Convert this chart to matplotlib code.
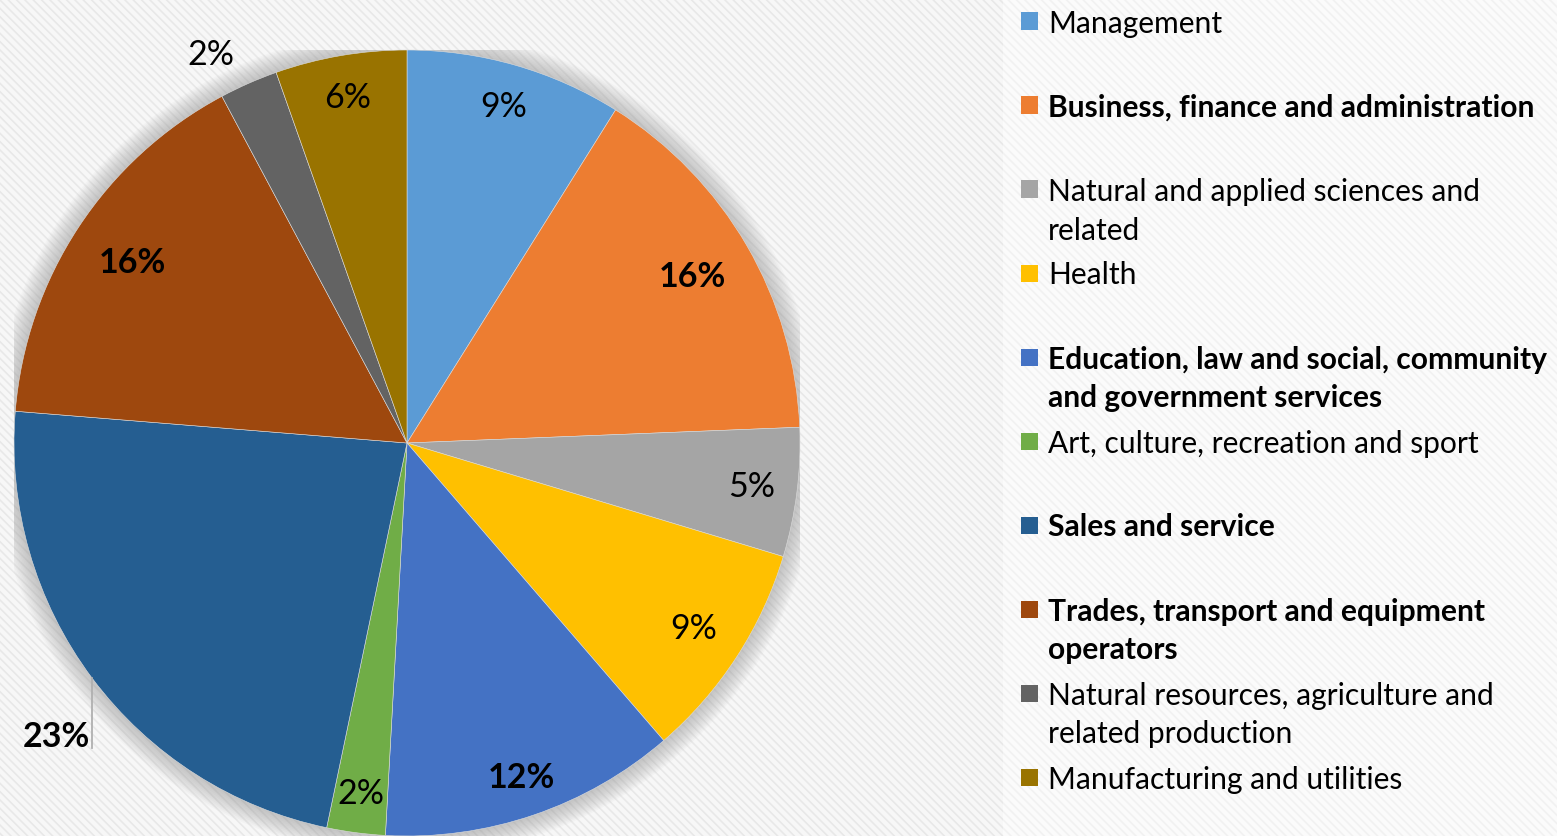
import matplotlib
matplotlib.use('Agg')
import matplotlib.pyplot as plt
from matplotlib.patches import Rectangle, Circle
import numpy as np

plt.rcParams['font.family'] = ['Lato', 'DejaVu Sans']
plt.rcParams['hatch.linewidth'] = 1.2

# data (wedge sizes in % of the circle, label texts as printed)
categories = ['Management', 'Business, finance and administration',
              'Natural and applied sciences and related', 'Health',
              'Education, law and social, community and government services',
              'Art, culture, recreation and sport', 'Sales and service',
              'Trades, transport and equipment operators',
              'Natural resources, agriculture and related production',
              'Manufacturing and utilities']
legend_labels = ['Management', 'Business, finance and administration',
                 'Natural and applied sciences and\nrelated', 'Health',
                 'Education, law and social, community\nand government services',
                 'Art, culture, recreation and sport', 'Sales and service',
                 'Trades, transport and equipment\noperators',
                 'Natural resources, agriculture and\nrelated production',
                 'Manufacturing and utilities']
shares = [8.9, 15.45, 5.3, 9.0, 12.2, 2.4, 23.0, 15.9, 2.4, 5.4]
pct_labels = ['9%', '16%', '5%', '9%', '12%', '2%', '23%', '16%', '2%', '6%']
bold = [False, True, False, False, True, False, True, True, False, False]

colors = ['#5B9BD5', '#ED7D31', '#A5A5A5', '#FFC000', '#4472C4',
          '#70AD47', '#255E91', '#9E480E', '#636363', '#997300']
# label placement: radius (pie radius = 1) and angle shift in degrees
label_r = [0.89, 0.84, 0.885, 0.87, 0.90, 0.90, 1.163, 0.835, 1.107, 0.89]
label_dt = [0, 0, 0, 0, 0, 0, 3.2, 0, 3.0, 0]

W, H = 1557, 836
fig = plt.figure(figsize=(W / 100, H / 100), dpi=100)
fig.patch.set_facecolor('#fafafa')

# striped background panels
fig.patches.append(Rectangle((0, 0), 1003 / W, 1, transform=fig.transFigure,
                             facecolor='#f7f7f7', edgecolor='#e8e8e8',
                             hatch='\\\\\\\\', lw=0, zorder=-10))
fig.patches.append(Rectangle((1003 / W, 0), 1 - 1003 / W, 1, transform=fig.transFigure,
                             facecolor='#fbfbfb', edgecolor='#f1f1f1',
                             hatch='\\\\\\\\', lw=0, zorder=-10))

cx, cy, R = 407, 443, 393
ax = fig.add_axes([(cx - R) / W, (H - cy - R) / H, 2 * R / W, 2 * R / H])
ax.set_facecolor('none')

# soft shadow around the pie
for k in range(14):
    ax.add_patch(Circle((0, 0), 1.0 + k * 0.004, color='#9a9a9a', alpha=0.05, lw=0, zorder=0))

wedges, _ = ax.pie(shares, colors=colors, startangle=90, counterclock=False,
                   wedgeprops=dict(linewidth=0.4, edgecolor='#dddddd'))
for w in wedges:
    w.set_zorder(2)
ax.set_xlim(-1, 1)
ax.set_ylim(-1, 1)
ax.set_aspect('equal')
ax.axis('off')

for w, lab, r, dt, b in zip(wedges, pct_labels, label_r, label_dt, bold):
    a = np.deg2rad((w.theta1 + w.theta2) / 2 + dt)
    x, y = r * np.cos(a), r * np.sin(a)
    ax.text(x, y, lab, ha='center', va='center', fontsize=24.5,
            fontweight='bold' if b else 'normal', color='black', zorder=5, clip_on=False)
    if lab == '23%':
        lx = x + 0.09
        ax.plot([lx, lx], [-np.sqrt(1 - lx ** 2), y - 0.03], color='#b0b0b0', lw=1.3,
                zorder=4, clip_on=False)

# legend
x_sq, x_txt = 1021, 1048
y0, step, line_h = 21, 84, 39
for i, (lab, c, b) in enumerate(zip(legend_labels, colors, bold)):
    yc = y0 + i * step
    fig.patches.append(Rectangle((x_sq / W, (H - yc - 8.5) / H), 17 / W, 17 / H,
                                 transform=fig.transFigure, facecolor=c, lw=0))
    for j, line in enumerate(lab.split('\n')):
        fig.text(x_txt / W, (H - yc - j * line_h) / H, line, ha='left', va='center_baseline',
                 fontsize=21.6, fontweight='bold' if b else 'normal', color='black')

fig.savefig('out.png', dpi=100)
